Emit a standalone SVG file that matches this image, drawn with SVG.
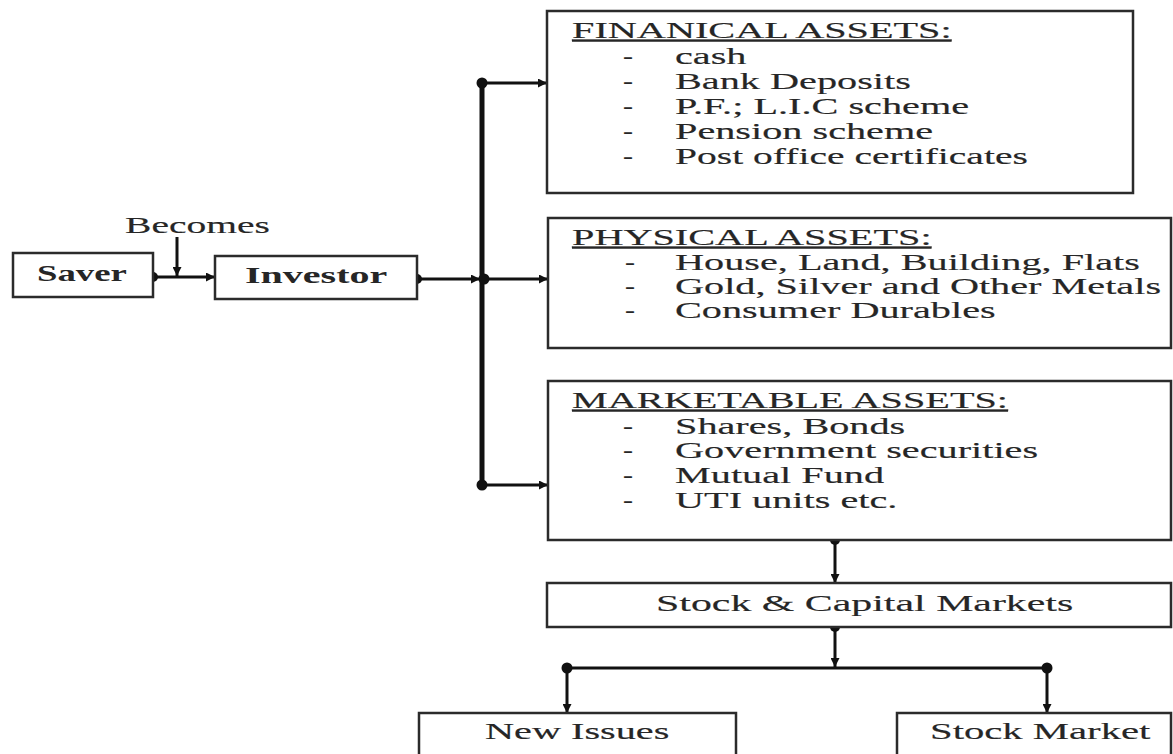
<svg xmlns="http://www.w3.org/2000/svg" width="1173" height="754" viewBox="0 0 1173 754">
<defs>
<marker id="ah" viewBox="0 0 10 10" refX="10" refY="5" markerWidth="12" markerHeight="9" markerUnits="userSpaceOnUse" orient="auto">
<path d="M0,0 L10,5 L0,10 z" fill="#111"/>
</marker>
<style>
.box{fill:#fff;stroke:#2b2b2b;stroke-width:2.5}
.t{font-family:"Liberation Serif","Times New Roman",serif;font-size:23px;fill:#262626;stroke:#262626;stroke-width:0.15}
.b{font-weight:bold;stroke-width:0}
.h{text-decoration:underline}
.c{stroke:#111;stroke-width:3;fill:none}
.bus{stroke:#111;stroke-width:5;fill:none}
.a{marker-end:url(#ah)}
.d{fill:#111}
</style>
</defs>
<rect width="1173" height="754" fill="#fff"/>

<g id="connectors">
<line class="bus" x1="482" y1="83" x2="482" y2="485"/>
<line class="c a" x1="153" y1="277" x2="215" y2="277"/>
<line class="c a" x1="177" y1="237" x2="177" y2="276"/>
<line class="c a" x1="417" y1="279" x2="480" y2="279"/>
<line class="c a" x1="482" y1="83" x2="547" y2="83"/>
<line class="c a" x1="482" y1="279" x2="548" y2="279"/>
<line class="c a" x1="482" y1="485" x2="548" y2="485"/>
<line class="c a" x1="835" y1="540" x2="835" y2="583"/>
<line class="c a" x1="835" y1="627" x2="835" y2="667"/>
<line class="c" x1="567" y1="668" x2="1047" y2="668"/>
<line class="c a" x1="567" y1="668" x2="567" y2="713"/>
<line class="c a" x1="1047" y1="668" x2="1047" y2="713"/>
<circle class="d" cx="153" cy="277" r="5"/>
<circle class="d" cx="417" cy="279" r="5"/>
<circle class="d" cx="482" cy="83" r="5.5"/>
<circle class="d" cx="484" cy="279" r="5.5"/>
<circle class="d" cx="482" cy="485" r="5.5"/>
<circle class="d" cx="835" cy="540" r="5"/>
<circle class="d" cx="835" cy="627" r="5"/>
<circle class="d" cx="567" cy="668" r="5.5"/>
<circle class="d" cx="1047" cy="668" r="5.5"/>
</g>

<g id="becomes">
<text class="t" transform="translate(125,233) scale(1.72,1)">Becomes</text>
</g>

<g id="saver">
<rect class="box" x="13" y="253" width="140" height="44"/>
<text class="t b" transform="translate(37,281) scale(1.6,1)">Saver</text>
</g>

<g id="investor">
<rect class="box" x="215" y="256" width="202" height="43"/>
<text class="t b" transform="translate(245,283) scale(1.74,1)">Investor</text>
</g>

<g id="financial">
<rect class="box" x="547" y="11" width="586" height="182"/>
<text class="t h" transform="translate(572,38) scale(1.75,1)">FINANICAL ASSETS:</text>
<text class="t" transform="translate(623,64) scale(1.3,1)">-</text>
<text class="t" transform="translate(675,64) scale(1.75,1)">cash</text>
<text class="t" transform="translate(623,89) scale(1.3,1)">-</text>
<text class="t" transform="translate(675,89) scale(1.75,1)">Bank Deposits</text>
<text class="t" transform="translate(623,114) scale(1.3,1)">-</text>
<text class="t" transform="translate(675,114) scale(1.75,1)">P.F.; L.I.C scheme</text>
<text class="t" transform="translate(623,139) scale(1.3,1)">-</text>
<text class="t" transform="translate(675,139) scale(1.75,1)">Pension scheme</text>
<text class="t" transform="translate(623,164) scale(1.3,1)">-</text>
<text class="t" transform="translate(675,164) scale(1.72,1)">Post office certificates</text>
</g>

<g id="physical">
<rect class="box" x="548" y="218" width="623" height="130"/>
<text class="t h" transform="translate(572,245) scale(1.75,1)">PHYSICAL ASSETS:</text>
<text class="t" transform="translate(625,270) scale(1.3,1)">-</text>
<text class="t" transform="translate(675,270) scale(1.75,1)">House, Land, Building, Flats</text>
<text class="t" transform="translate(625,294) scale(1.3,1)">-</text>
<text class="t" transform="translate(675,294) scale(1.75,1)">Gold, Silver and Other Metals</text>
<text class="t" transform="translate(625,318) scale(1.3,1)">-</text>
<text class="t" transform="translate(675,318) scale(1.75,1)">Consumer Durables</text>
</g>

<g id="marketable">
<rect class="box" x="548" y="381" width="623" height="159"/>
<text class="t h" transform="translate(572,408) scale(1.75,1)">MARKETABLE ASSETS:</text>
<text class="t" transform="translate(623,434) scale(1.3,1)">-</text>
<text class="t" transform="translate(675,434) scale(1.75,1)">Shares, Bonds</text>
<text class="t" transform="translate(623,458) scale(1.3,1)">-</text>
<text class="t" transform="translate(675,458) scale(1.75,1)">Government securities</text>
<text class="t" transform="translate(623,483) scale(1.3,1)">-</text>
<text class="t" transform="translate(675,483) scale(1.75,1)">Mutual Fund</text>
<text class="t" transform="translate(623,508) scale(1.3,1)">-</text>
<text class="t" transform="translate(675,508) scale(1.75,1)">UTI units etc.</text>
</g>

<g id="stock-capital-markets">
<rect class="box" x="547" y="583" width="624" height="44"/>
<text class="t" transform="translate(656,611) scale(1.82,1)">Stock &amp; Capital Markets</text>
</g>

<g id="new-issues">
<rect class="box" x="419" y="713" width="317" height="50"/>
<text class="t" transform="translate(485,739) scale(1.75,1)">New Issues</text>
</g>

<g id="stock-market">
<rect class="box" x="897" y="713" width="274" height="50"/>
<text class="t" transform="translate(930,739) scale(1.77,1)">Stock Market</text>
</g>
</svg>
